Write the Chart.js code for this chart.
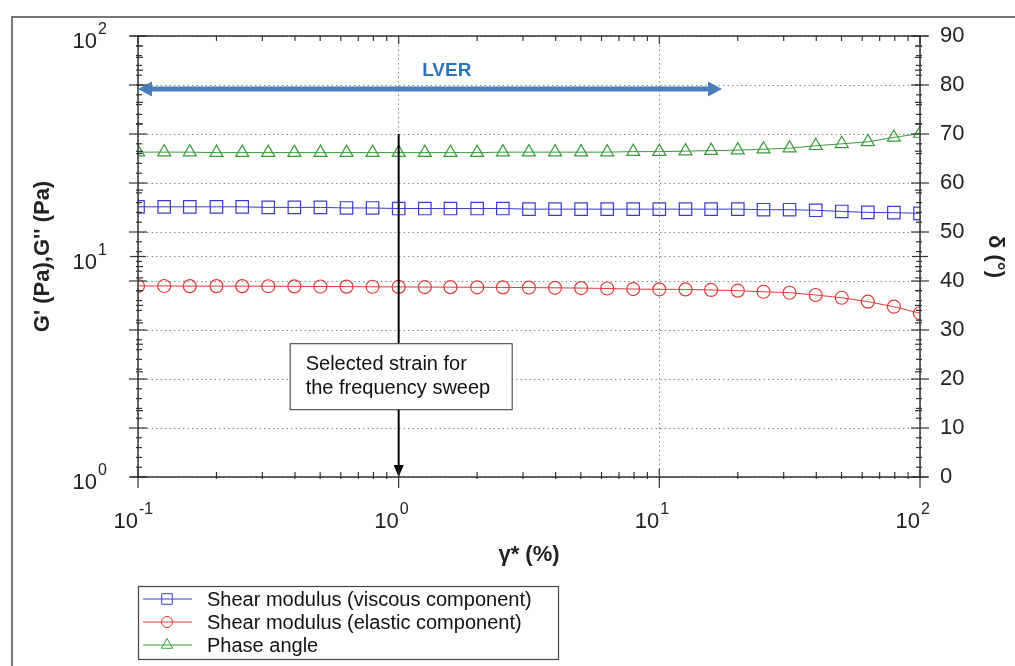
<!DOCTYPE html>
<html>
<head>
<meta charset="utf-8">
<script src="https://cdn.jsdelivr.net/npm/chart.js@4.4.1/dist/chart.umd.min.js"></script>
<style>
  html, body { margin:0; padding:0; background:#fff; }
  #wrap { position:relative; width:1015px; height:666px; }
</style>
</head>
<body>
<div id="wrap"><canvas id="chart" width="1015" height="666"></canvas></div>
<script>
/* strain sweep: G', G'' (log, left) and phase angle (linear, right) vs strain amplitude */
const strain = [0.1, 0.126, 0.158, 0.2, 0.251, 0.316, 0.398, 0.501, 0.631, 0.794,
  1, 1.26, 1.58, 2, 2.51, 3.16, 3.98, 5.01, 6.31, 7.94,
  10, 12.6, 15.8, 20, 25.1, 31.6, 39.8, 50.1, 63.1, 79.4, 100];
const gViscous = [16.8, 16.8, 16.8, 16.8, 16.8, 16.7, 16.7, 16.7, 16.6, 16.6,
  16.5, 16.5, 16.5, 16.5, 16.5, 16.4, 16.4, 16.4, 16.4, 16.4,
  16.4, 16.4, 16.4, 16.4, 16.3, 16.3, 16.2, 16.0, 15.85, 15.8, 15.7];
const gElastic = [7.35, 7.35, 7.34, 7.34, 7.34, 7.33, 7.32, 7.31, 7.30, 7.29,
  7.28, 7.27, 7.26, 7.25, 7.24, 7.23, 7.21, 7.19, 7.16, 7.12,
  7.10, 7.09, 7.05, 7.00, 6.92, 6.85, 6.69, 6.50, 6.24, 5.92, 5.53];
const phaseAngle = [66.3, 66.3, 66.3, 66.2, 66.2, 66.2, 66.2, 66.2, 66.2, 66.2,
  66.2, 66.2, 66.2, 66.2, 66.3, 66.3, 66.3, 66.3, 66.3, 66.4,
  66.4, 66.5, 66.6, 66.7, 66.9, 67.1, 67.6, 68.0, 68.4, 69.3, 70.1];
const seriesLabels = ['Shear modulus (viscous component)', 'Shear modulus (elastic component)', 'Phase angle'];
const xDecades = [0.1, 1, 10, 100];
const xExponents = ['-1', '0', '1', '2'];
const yDecades = [1, 10, 100];
const yExponents = ['0', '1', '2'];
const deltaTicks = [0, 10, 20, 30, 40, 50, 60, 70, 80, 90];

// annotations (data coordinates)
const lverFrom = 0.1, lverTo = 17.4, lverDelta = 79.2;
const lverText = 'LVER', lverTextX = 1.53, lverTextDelta = 83;
const selStrain = 1, selTop = 70, selBottom = 0;
const noteLines = ['Selected strain for', 'the frequency sweep'];
const noteTopDelta = 27.3;

const FONT = '"Liberation Sans", Arial, sans-serif';
const BLUE = '#3b3bd0', RED = '#e23a3a', GREEN = '#3a9a3a';

function pt(ctx, style, x, y, r) {
  ctx.beginPath();
  if (style === 'rect') { const s = r * Math.SQRT1_2; ctx.rect(x - s, y - s, 2 * s, 2 * s); }
  else if (style === 'circle') ctx.arc(x, y, r, 0, Math.PI * 2);
  else { for (let k = 0; k < 3; k++) { const a = k * 2 * Math.PI / 3; ctx[k ? 'lineTo' : 'moveTo'](x + Math.sin(a) * r, y - Math.cos(a) * r); } ctx.closePath(); }
  ctx.stroke();
}

function pow10(ctx, xRight, base, exp) {
  ctx.font = '22px ' + FONT; ctx.textAlign = 'right'; ctx.fillStyle = '#222';
  ctx.fillText('10', xRight, base);
  ctx.font = '16px ' + FONT; ctx.textAlign = 'left';
  ctx.fillText(exp, xRight + 1, base - 14);
}

const decor = {
  id: 'decor',
  beforeDraw(chart) {
    const {ctx, width, height} = chart;
    ctx.save();
    ctx.fillStyle = '#fff'; ctx.fillRect(0, 0, width, height);
    ctx.strokeStyle = '#777'; ctx.lineWidth = 2;
    ctx.beginPath(); ctx.moveTo(12, height); ctx.lineTo(12, 17); ctx.lineTo(width, 17); ctx.stroke();
    ctx.restore();
  },
  afterDatasetsDraw(chart) {
    const {ctx} = chart;
    const xs = chart.scales.x, y2 = chart.scales.y2;
    ctx.save();
    // LVER double arrow
    const ly = y2.getPixelForValue(lverDelta), lx0 = xs.getPixelForValue(lverFrom), lx1 = xs.getPixelForValue(lverTo);
    ctx.fillStyle = '#4a7ebb'; ctx.strokeStyle = '#4a7ebb'; ctx.lineWidth = 5;
    ctx.beginPath(); ctx.moveTo(lx0 + 10, ly); ctx.lineTo(lx1 - 10, ly); ctx.stroke();
    ctx.beginPath(); ctx.moveTo(lx0, ly); ctx.lineTo(lx0 + 14, ly - 7.5); ctx.lineTo(lx0 + 14, ly + 7.5); ctx.closePath(); ctx.fill();
    ctx.beginPath(); ctx.moveTo(lx1, ly); ctx.lineTo(lx1 - 14, ly - 7.5); ctx.lineTo(lx1 - 14, ly + 7.5); ctx.closePath(); ctx.fill();
    ctx.font = 'bold 19px ' + FONT; ctx.fillStyle = '#2e74b5'; ctx.textAlign = 'center'; ctx.textBaseline = 'middle';
    ctx.fillText(lverText, xs.getPixelForValue(lverTextX), y2.getPixelForValue(lverTextDelta));
    // selected strain arrow
    const sx = xs.getPixelForValue(selStrain), sy0 = y2.getPixelForValue(selTop), sy1 = y2.getPixelForValue(selBottom);
    ctx.strokeStyle = '#000'; ctx.fillStyle = '#000'; ctx.lineWidth = 2;
    ctx.beginPath(); ctx.moveTo(sx, sy0); ctx.lineTo(sx, sy1 - 10); ctx.stroke();
    ctx.beginPath(); ctx.moveTo(sx, sy1); ctx.lineTo(sx - 5, sy1 - 12); ctx.lineTo(sx + 5, sy1 - 12); ctx.closePath(); ctx.fill();
    // note box
    const bw = 222, bh = 66, bx = sx + 2 - bw / 2, by = y2.getPixelForValue(noteTopDelta);
    ctx.fillStyle = '#fff'; ctx.fillRect(bx, by, bw, bh);
    ctx.strokeStyle = '#333'; ctx.lineWidth = 1; ctx.strokeRect(bx + 0.5, by + 0.5, bw, bh);
    ctx.fillStyle = '#111'; ctx.font = '20px ' + FONT; ctx.textAlign = 'left'; ctx.textBaseline = 'alphabetic';
    noteLines.forEach((t, i) => ctx.fillText(t, bx + 16, by + 27 + i * 24));
    ctx.restore();
  },
  afterDraw(chart) {
    const {ctx, chartArea: a} = chart;
    const xs = chart.scales.x, ys = chart.scales.y, y2 = chart.scales.y2;
    ctx.save();
    ctx.strokeStyle = '#333'; ctx.lineWidth = 1.5;
    ctx.strokeRect(a.left, a.top, a.right - a.left, a.bottom - a.top);
    ctx.lineWidth = 1.2;
    // bottom ticks cross the axis, top ticks point inward only
    const hTick = (x, len) => {
      ctx.beginPath(); ctx.moveTo(x, a.bottom - len); ctx.lineTo(x, a.bottom + (len > 6 ? len + 3 : 2)); ctx.stroke();
      ctx.beginPath(); ctx.moveTo(x, a.top); ctx.lineTo(x, a.top + len); ctx.stroke();
    };
    const vTick = (y, len) => {
      ctx.beginPath(); ctx.moveTo(a.left - (len > 6 ? len : 2), y); ctx.lineTo(a.left + len, y); ctx.stroke();
      ctx.beginPath(); ctx.moveTo(a.right - len, y); ctx.lineTo(a.right + (len > 6 ? len : 2), y); ctx.stroke();
    };
    xDecades.forEach((d, i) => {
      hTick(xs.getPixelForValue(d), 8);
      if (i < xDecades.length - 1) for (let m = 2; m < 10; m++) hTick(xs.getPixelForValue(d * m), 5);
    });
    yDecades.forEach((d, i) => {
      vTick(ys.getPixelForValue(d), 8);
      if (i < yDecades.length - 1) for (let m = 2; m < 10; m++) vTick(ys.getPixelForValue(d * m), 5);
    });
    for (let v = 0; v <= 90; v += 2) vTick(y2.getPixelForValue(v), v % 10 ? 4 : 9);
    // power-of-ten labels
    ctx.textBaseline = 'alphabetic';
    xDecades.forEach((d, i) => pow10(ctx, xs.getPixelForValue(d), a.bottom + 51, xExponents[i]));
    yDecades.forEach((d, i) => pow10(ctx, a.left - 41, ys.getPixelForValue(d) + 12, yExponents[i]));
    // legend
    const lx = 138, ly = 586, lw = 420, lh = 73;
    ctx.strokeStyle = '#444'; ctx.lineWidth = 1.2; ctx.strokeRect(lx + 0.5, ly + 0.5, lw, lh);
    ctx.font = '20px ' + FONT; ctx.textAlign = 'left';
    chart.data.datasets.forEach((ds, i) => {
      const cy = 599 + i * 23;
      ctx.strokeStyle = ds.borderColor; ctx.lineWidth = 1;
      ctx.beginPath(); ctx.moveTo(143, cy); ctx.lineTo(192, cy); ctx.stroke();
      const r = ds.pointStyle === 'rect' ? 7.5 : ds.pointStyle === 'circle' ? 5.5 : 6.5;
      pt(ctx, ds.pointStyle, 167, cy, r);
      ctx.fillStyle = '#111';
      ctx.fillText(ds.label, 207, cy + 7);
    });
    ctx.restore();
  }
};

const dotted = { color: '#8a8a8a', lineWidth: 1, drawTicks: false };
const dashBorder = { display: false, dash: [1.5, 3] };

function series(label, data, color, style, radius, axis) {
  return { label, data: data.map((v, i) => ({x: strain[i], y: v})), yAxisID: axis,
    borderColor: color, borderWidth: 1, pointStyle: style, pointRadius: radius, pointHoverRadius: radius,
    pointBorderColor: color, pointBackgroundColor: 'rgba(255,255,255,0)', pointBorderWidth: 1.2,
    tension: 0, clip: 0, fill: false };
}

new Chart(document.getElementById('chart'), {
  type: 'line',
  data: { datasets: [
    series(seriesLabels[0], gViscous, BLUE, 'rect', 8.8, 'y'),
    series(seriesLabels[1], gElastic, RED, 'circle', 6.5, 'y'),
    series(seriesLabels[2], phaseAngle, GREEN, 'triangle', 7.5, 'y2')
  ]},
  options: {
    responsive: false, animation: false, devicePixelRatio: 1,
    layout: { padding: { top: 36, bottom: 89, left: 0, right: 0 } },
    plugins: { legend: { display: false }, tooltip: { enabled: false } },
    scales: {
      x: { type: 'logarithmic', min: 0.1, max: 100,
        afterBuildTicks: s => { s.ticks = xDecades.map(v => ({value: v})); },
        afterFit: s => { s.height = 100; },
        ticks: { display: false }, grid: dotted, border: dashBorder,
        title: { display: true, text: 'γ* (%)', font: { family: FONT, size: 22, weight: 'bold' }, color: '#222', padding: { top: 0, bottom: 9 } } },
      y: { type: 'logarithmic', position: 'left', min: 1, max: 100,
        afterBuildTicks: s => { s.ticks = yDecades.map(v => ({value: v})); },
        afterFit: s => { s.width = 138; },
        ticks: { display: false }, grid: dotted, border: dashBorder,
        title: { display: true, text: "G' (Pa),G'' (Pa)", font: { family: FONT, size: 22, weight: 'bold' }, color: '#222', padding: { top: 30, bottom: 0 } } },
      y2: { type: 'linear', position: 'right', min: 0, max: 90,
        afterBuildTicks: s => { s.ticks = deltaTicks.map(v => ({value: v})); },
        afterFit: s => { s.width = 95; },
        ticks: { padding: 20, color: '#222', font: { family: FONT, size: 22 } },
        grid: dotted, border: dashBorder,
        title: { display: true, text: 'δ (°)', font: { family: FONT, size: 22, weight: 'bold' }, color: '#222', padding: { top: 7, bottom: 0 } } }
    }
  },
  plugins: [decor]
});
</script>
</body>
</html>
